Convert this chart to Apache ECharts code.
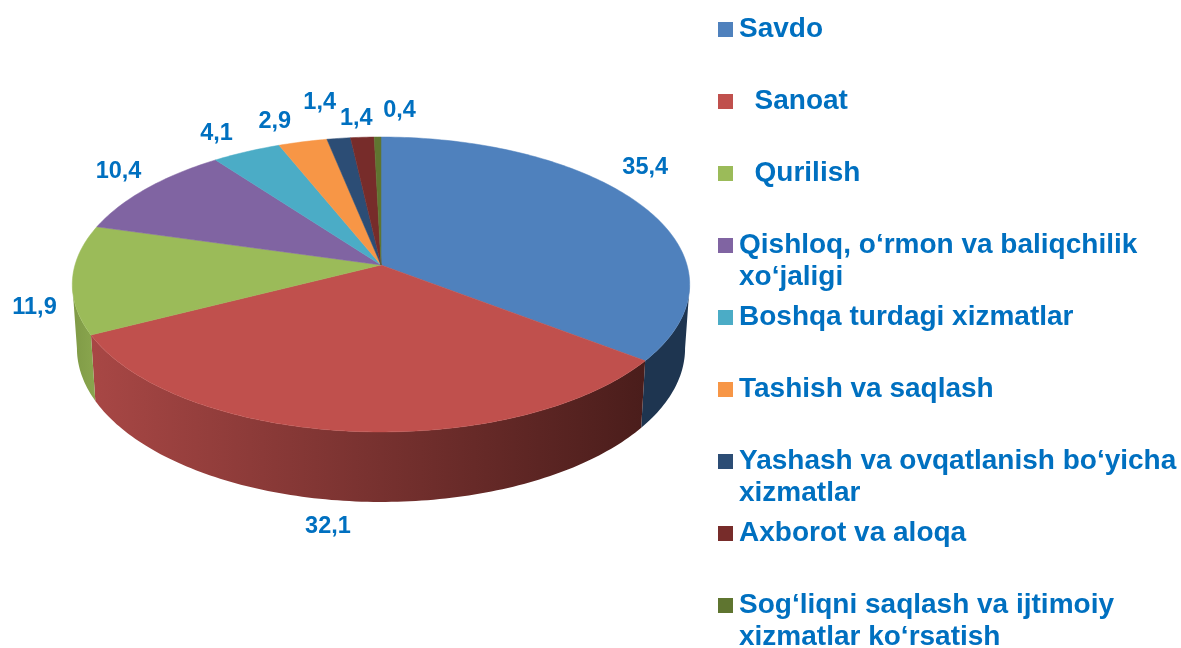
<!DOCTYPE html>
<html>
<head>
<meta charset="utf-8">
<title>Savdo</title>
<style>
html, body { margin: 0; padding: 0; background: #fff; }
#chart { width: 1181px; height: 648px; }
</style>
<script src="https://cdn.jsdelivr.net/npm/echarts@6/dist/echarts.min.js"></script>
</head>
<body>
<div id="chart"></div>
<script>
// data
var categories = ['Savdo', '  Sanoat', '  Qurilish', 'Qishloq, o‘rmon va baliqchilik\nxo‘jaligi', 'Boshqa turdagi xizmatlar',
    'Tashish va saqlash', 'Yashash va ovqatlanish bo‘yicha\nxizmatlar', 'Axborot va aloqa', 'Sog‘liqni saqlash va ijtimoiy\nxizmatlar ko‘rsatish'];
var values = [35.4, 32.1, 11.9, 10.4, 4.1, 2.9, 1.4, 1.4, 0.4];

// styles
var topColors = ['#4f81bd', '#c0504d', '#9bbb59', '#8064a2', '#4bacc6', '#f79646', '#2c4d75', '#772c2a', '#5f7530'];
var wallColors = [
    ['#1e3550', '#1e3550'], ['#a84745', '#4a1d1b'], ['#7f9a46', '#8aa64e'], ['#4d3c62', '#4d3c62'], ['#2d6777', '#2d6777'],
    ['#94592a', '#94592a'], ['#1a2e46', '#1a2e46'], ['#471a19', '#471a19'], ['#39461d', '#39461d']
];
var labelOffsets = [[5, -37], [-21, 95], [-38, 28], [-28, -17], [-30, -18], [-28, -20], [-19, -36], [-6, -19], [22, -26]];

var font = 'Liberation Sans';
var blue = '#0070c0';

// projection of the tilted pie
var cx = 381, cy = 265, bx = 306, by = 144.9, persp = 0.132;
var depth = 63, wallSx = 0.985, wallSy = 1.042;
// part of the rim whose wall faces the viewer, in percent of the circle
var frontFrom = Math.acos(-persp) / (Math.PI * 2) * 100;
var frontTo = 100 - frontFrom;

function rim(pct) {
    var a = pct / 100 * Math.PI * 2;
    var w = 1 + persp * Math.cos(a);
    return [cx + bx * Math.sin(a) / w, cy - by * Math.cos(a) / w];
}
function lower(p) {
    return [cx + (p[0] - cx) * wallSx, cy + depth + (p[1] - cy) * wallSy];
}
function arc(start, val) {
    var n = Math.max(2, Math.ceil(val * 3.6));
    var pts = [];
    for (var i = 0; i <= n; i++) pts.push(rim(start + val * i / n));
    return pts;
}

function renderSlice(params, api) {
    var start = api.value(0), val = api.value(1);
    var idx = params.seriesIndex;
    var edge = arc(start, val);
    var mid = rim(start + val / 2);
    var off = labelOffsets[idx];
    var children = [];

    var wallFrom = Math.max(start, frontFrom);
    var wallTo = Math.min(start + val, frontTo);
    if (wallTo > wallFrom) {
        var wallEdge = arc(wallFrom, wallTo - wallFrom);
        children.push({
            type: 'polygon',
            z2: 1,
            shape: { points: wallEdge.concat(wallEdge.map(lower).reverse()) },
            style: {
                fill: new echarts.graphic.LinearGradient(0, 0, 1, 0, [
                    { offset: 0, color: wallColors[idx][0] },
                    { offset: 1, color: wallColors[idx][1] }
                ])
            }
        });
    }
    children.push({
        type: 'polygon',
        z2: 2,
        shape: { points: [[cx, cy]].concat(edge) },
        style: { fill: topColors[idx], stroke: topColors[idx], lineWidth: 0.5 }
    });
    children.push({
        type: 'text',
        z2: 3,
        x: mid[0] + off[0],
        y: mid[1] + off[1],
        style: {
            text: String(val).replace('.', ','),
            fill: blue,
            font: 'bold 23.5px "' + font + '"',
            align: 'center',
            verticalAlign: 'middle'
        }
    });
    return { type: 'group', children: children };
}

var start = 0;
var series = categories.map(function (name, i) {
    var s = {
        type: 'custom',
        name: name,
        coordinateSystem: 'none',
        animation: false,
        itemStyle: { color: topColors[i] },
        renderItem: renderSlice,
        data: [[start, values[i]]]
    };
    start += values[i];
    return s;
});

// one legend per item, the rows keep a fixed pitch whatever their line count
var legends = categories.map(function (name, i) {
    var twoLines = name.indexOf('\n') >= 0;
    return {
        data: [name],
        orient: 'vertical',
        left: 718,
        top: 28.5 + i * 72 - (twoLines ? 48 : 16),
        icon: 'rect',
        itemWidth: 15,
        itemHeight: 15,
        selectedMode: false,
        padding: 0,
        formatter: function (n) {
            // blank first line keeps the marker level with the first text line
            return n.indexOf('\n') >= 0 ? ' \n' + n : n;
        },
        textStyle: { color: blue, fontFamily: font, fontWeight: 'bold', fontSize: 28, lineHeight: 32, padding: [2, 0, 0, 1] }
    };
});

var myChart = echarts.init(document.getElementById('chart'));
myChart.setOption({
    animation: false,
    backgroundColor: '#fff',
    tooltip: { show: false },
    legend: legends,
    series: series
});
</script>
</body>
</html>
